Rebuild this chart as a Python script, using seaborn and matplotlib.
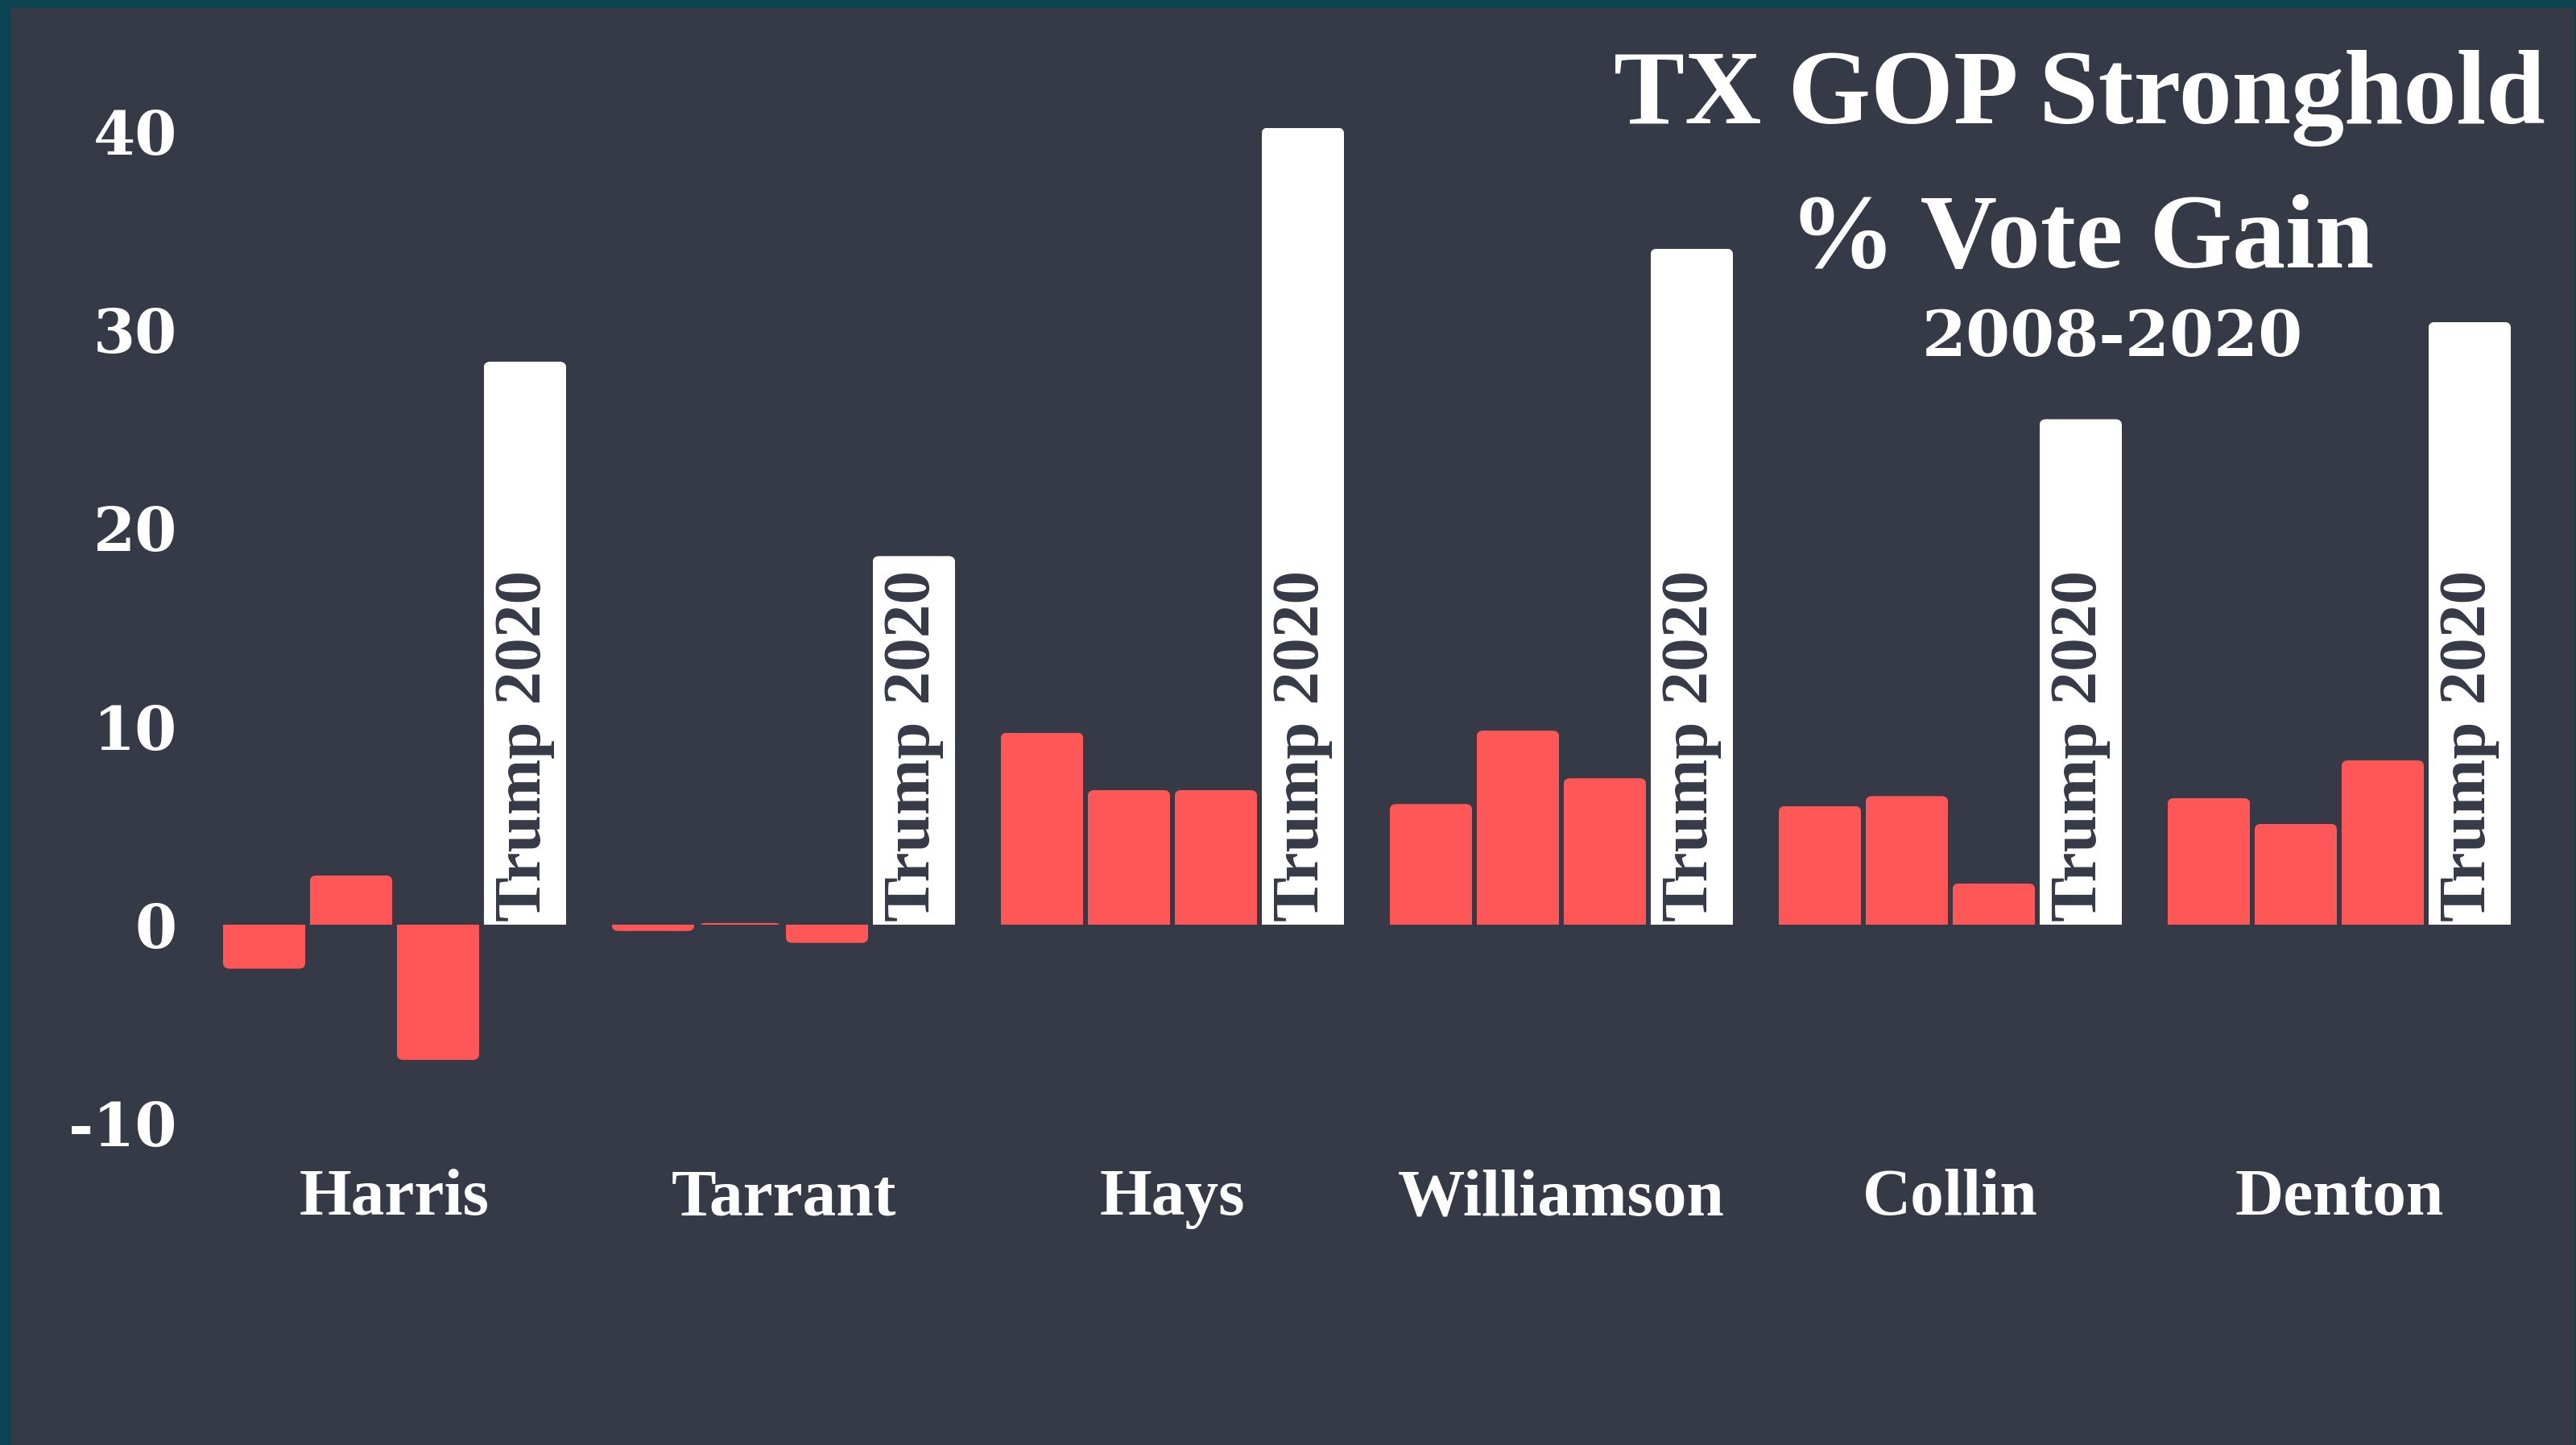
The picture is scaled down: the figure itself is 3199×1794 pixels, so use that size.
import matplotlib
matplotlib.use("Agg")
import matplotlib.pyplot as plt
from matplotlib.patches import Rectangle, FancyBboxPatch
import seaborn as sns
import pandas as pd

# ---- data ----
counties = ["Harris", "Tarrant", "Hays", "Williamson", "Collin", "Denton"]
periods = ["2008-2012", "2012-2016", "2016-2020", "Trump 2020"]
gain_2008_2012 = [-2.2, -0.3, 9.7, 6.1, 6.0, 6.4]
gain_2012_2016 = [2.5, 0.1, 6.8, 9.8, 6.5, 5.1]
gain_2016_2020 = [-6.8, -0.9, 6.8, 7.4, 2.1, 8.3]
trump_2020 = [28.4, 18.6, 40.2, 34.1, 25.5, 30.4]
y_ticks = [-10, 0, 10, 20, 30, 40]
title_lines = ["TX GOP Stronghold", "% Vote Gain", "2008-2020"]
bar_label = "Trump 2020"

series = [gain_2008_2012, gain_2012_2016, gain_2016_2020, trump_2020]
df = pd.DataFrame(
    [(c, p, v) for p, vals in zip(periods, series) for c, v in zip(counties, vals)],
    columns=["county", "period", "gain"],
)

# ---- style ----
BG = "#363a47"
BORDER = "#0b4450"
RED = "#ff5757"
WHITE = "#ffffff"

sns.set_theme(style="white")
plt.rcParams["font.family"] = ["Liberation Serif", "DejaVu Serif"]
plt.rcParams["font.weight"] = "bold"

W, H, DPI = 3199, 1794, 100
fig = plt.figure(figsize=(W / DPI, H / DPI), dpi=DPI, facecolor=BORDER)
fig.add_artist(Rectangle((14 / W, 0), 1 - 16 / W, 1 - 10 / H,
                         transform=fig.transFigure, facecolor=BG,
                         edgecolor="none", zorder=-10))

ax_l, ax_r = 248.5 / W, 3146.5 / W
ax_b, ax_t = 1 - 1440 / H, 1 - 60 / H
ax = fig.add_axes([ax_l, ax_b, ax_r - ax_l, ax_t - ax_b])
ax.set_facecolor("none")

sns.barplot(data=df, x="county", y="gain", hue="period", order=counties,
            hue_order=periods, palette=[RED, RED, RED, WHITE], saturation=1,
            width=0.894, gap=0.05, errorbar=None, legend=False,
            linewidth=0, ax=ax)

xlim = (-0.5, 5.5)
ylim = (-11.84, 44.2)
ax.set_xlim(*xlim)
ax.set_ylim(*ylim)
for s in ax.spines.values():
    s.set_visible(False)
ax.grid(False)
ax.set_xlabel("")
ax.set_ylabel("")
ax.set_yticks(y_ticks)
ax.set_yticklabels([str(t) for t in y_ticks], fontsize=54, color="white",
                   fontweight="bold", family=["DejaVu Serif"])
ax.set_xticks(range(len(counties)))
ax.set_xticklabels(counties, fontsize=60, color="white", fontweight="bold",
                   family=["Liberation Serif"])
ax.tick_params(axis="y", length=0, pad=20.5)
ax.tick_params(axis="x", length=0, pad=8)

# ---- rounded outer corners on bars ----
px_per_x = (ax_r - ax_l) * W / (xlim[1] - xlim[0])
px_per_y = (ax_t - ax_b) * H / (ylim[1] - ylim[0])
r_px = 8
rx = r_px / px_per_x
ry = r_px / px_per_y
aspect = ry / rx
for cont in ax.containers:
    for rect in cont:
        bb = rect.get_bbox()
        x0, x1 = min(bb.x0, bb.x1), max(bb.x0, bb.x1)
        y0, y1 = min(bb.y0, bb.y1), max(bb.y0, bb.y1)
        ext = 2.5 * ry
        if y1 > 1e-9:          # positive bar: round the top only
            fy0, fy1 = y0 - ext, y1
        else:                  # negative bar: round the bottom only
            fy0, fy1 = y0, y1 + ext
        fb = FancyBboxPatch((x0, fy0), x1 - x0, fy1 - fy0,
                            boxstyle=f"round,pad=0,rounding_size={rx}",
                            mutation_aspect=aspect,
                            facecolor=rect.get_facecolor(), edgecolor="none",
                            linewidth=0, transform=ax.transData, zorder=2)
        ax.add_patch(fb)
        fb.set_clip_path(rect)
        rect.set_visible(False)

# ---- "Trump 2020" labels inside white bars ----
for rect in ax.containers[3]:
    cx = rect.get_x() + rect.get_width() / 2
    ax.text(cx, 0.2, bar_label, rotation=90, ha="center", va="bottom",
            color=BG, fontsize=60, fontweight="bold",
            family=["Liberation Serif"], zorder=3)

# ---- title block ----
fig.text(2582 / W, 1 - 153 / H, title_lines[0], ha="center", va="baseline",
         fontsize=95, color="white", fontweight="bold",
         family=["Liberation Serif"])
fig.text(2585 / W, 1 - 332 / H, title_lines[1], ha="center", va="baseline",
         fontsize=95, color="white", fontweight="bold",
         family=["Liberation Serif"])
fig.text(2623 / W, 1 - 442 / H, title_lines[2], ha="center", va="baseline",
         fontsize=57, color="white", fontweight="bold",
         family=["DejaVu Serif"])

fig.savefig("out.png", dpi=DPI, facecolor=BORDER)
